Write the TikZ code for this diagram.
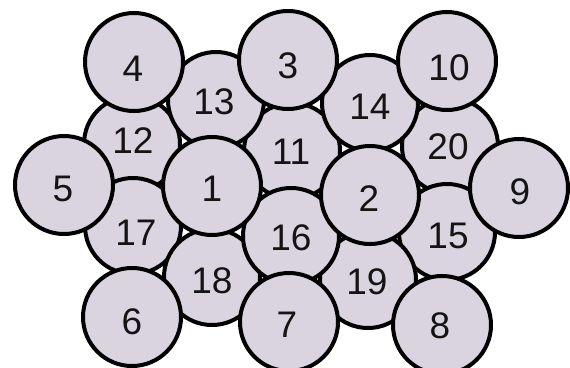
\documentclass[tikz,border=0pt]{standalone}
\usepackage{fontspec}
\setmainfont{Liberation Sans}
\definecolor{disc}{RGB}{217,212,224}
\definecolor{ink}{RGB}{20,20,20}
\tikzset{
  bigdisc/.style={circle, draw=black, fill=disc, line width=4pt, minimum size=98pt, inner sep=0pt},
  smalldisc/.style={circle, draw=black, fill=disc, line width=4pt, minimum size=96pt, inner sep=0pt},
  num/.style={text=ink, font=\fontsize{37}{37}\selectfont, inner sep=0pt}
}
\begin{document}
\begin{tikzpicture}[x=1pt,y=-1pt]
\useasboundingbox (0,0) rectangle (570,367);
\fill[white] (0,0) rectangle (570,367);
% small (background) discs
\node[smalldisc] (c11) at (292,151) {};
\node[smalldisc] (c12) at (132,144) {};
\node[smalldisc] (c20) at (450,146) {};
\node[smalldisc] (c17) at (133,226) {};
\node[smalldisc] (c15) at (447,232) {};
\node[smalldisc] (c18) at (212,277) {};
\node[smalldisc] (c19) at (368,280) {};
\node[smalldisc] (c13) at (216,100) {};
\node[smalldisc] (c14) at (370,103) {};
\node[smalldisc] (c16) at (291,236) {};
% big (foreground) discs
\node[bigdisc] (c4) at (134,62) {};
\node[bigdisc] (c3) at (288,60) {};
\node[bigdisc] (c10) at (447,61) {};
\node[bigdisc] (c5) at (64,185) {};
\node[bigdisc] (c1) at (212,186) {};
\node[bigdisc] (c2) at (370,195) {};
\node[bigdisc] (c9) at (519,188) {};
\node[bigdisc] (c6) at (132,317) {};
\node[bigdisc] (c7) at (289,322) {};
\node[bigdisc] (c8) at (442,325) {};
% numbers
\node[num] (t1) at (212,189) {1};
\node[num] (t2) at (369,199) {2};
\node[num] (t3) at (288,66) {3};
\node[num] (t4) at (133,69) {4};
\node[num] (t5) at (63,189) {5};
\node[num] (t6) at (132,322) {6};
\node[num] (t7) at (287,325) {7};
\node[num] (t8) at (440,326) {8};
\node[num] (t9) at (520,192) {9};
\node[num] (t10) at (449,68) {10};
\node[num] (t11) at (291,152) {11};
\node[num] (t12) at (133,141) {12};
\node[num] (t13) at (214,102) {13};
\node[num] (t14) at (370,107) {14};
\node[num] (t15) at (448,236) {15};
\node[num] (t16) at (291,238) {16};
\node[num] (t17) at (136,233) {17};
\node[num] (t18) at (212,281) {18};
\node[num] (t19) at (367,282) {19};
\node[num] (t20) at (448,147) {20};
\end{tikzpicture}
\end{document}
